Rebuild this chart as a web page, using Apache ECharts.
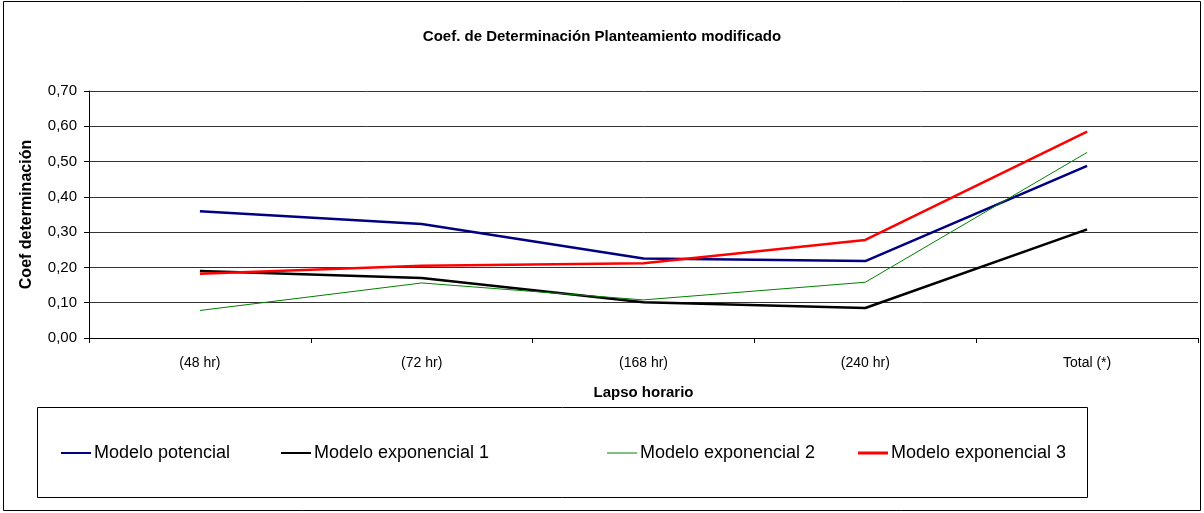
<!DOCTYPE html>
<html>
<head>
<meta charset="utf-8">
<script src="https://cdn.jsdelivr.net/npm/echarts@6/dist/echarts.min.js"></script>
<style>html,body{margin:0;padding:0;background:#fff}#c{width:1204px;height:513px}</style>
</head>
<body>
<div id="c"></div>
<script>
var categories = ['(48 hr)', '(72 hr)', '(168 hr)', '(240 hr)', 'Total (*)'];
var potencial = [0.359, 0.323, 0.225, 0.218, 0.488];
var exponencial1 = [0.190, 0.170, 0.101, 0.085, 0.308];
var exponencial2 = [0.078, 0.156, 0.108, 0.158, 0.526];
var exponencial3 = [0.182, 0.205, 0.212, 0.278, 0.585];
var seriesNames = ['Modelo potencial', 'Modelo exponencial 1', 'Modelo exponencial 2', 'Modelo exponencial 3'];
var yTicks = [0, 0.1, 0.2, 0.3, 0.4, 0.5, 0.6, 0.7];

var colors = ['#000080', '#000000', '#008000', '#ff0000'];
var widths = [2.5, 2.5, 1, 2.5];
var dataSets = [potencial, exponencial1, exponencial2, exponencial3];
var legendLeft = [61, 281, 607, 858];
var legendH = [2, 2, 1, 3];
var font = 'Liberation Sans, Arial, sans-serif';

var chart = echarts.init(document.getElementById('c'));
chart.setOption({
  animation: false,
  title: {
    text: 'Coef. de Determinación Planteamiento modificado',
    left: 'center', top: 24,
    textStyle: {fontFamily: font, fontSize: 15, fontWeight: 'bold', color: '#000'}
  },
  graphic: [
    {type: 'rect', shape: {x: 3.5, y: 1.5, width: 1197, height: 509}, style: {fill: 'none', stroke: '#000', lineWidth: 1}, silent: true},
    {type: 'rect', shape: {x: 37.5, y: 407.5, width: 1050, height: 90}, style: {fill: 'none', stroke: '#000', lineWidth: 1}, silent: true}
  ],
  legend: seriesNames.map(function (n, i) {
    return {
      data: [n], left: legendLeft[i], top: 444, padding: 0,
      icon: 'rect', itemWidth: 30, itemHeight: legendH[i], itemGap: 4,
      textStyle: {fontFamily: font, fontSize: 18, color: '#000', padding: [0, 0, 0, -2]}
    };
  }),
  grid: {left: 89, top: 91, right: 6, bottom: 175},
  xAxis: {
    type: 'category', data: categories, boundaryGap: true,
    name: 'Lapso horario', nameLocation: 'middle', nameGap: 47,
    nameTextStyle: {fontFamily: font, fontSize: 15, fontWeight: 'bold', color: '#000'},
    axisLine: {lineStyle: {color: '#000', width: 1}},
    axisTick: {show: true, length: 5, lineStyle: {color: '#000'}},
    axisLabel: {fontFamily: font, fontSize: 14, color: '#000', margin: 18}
  },
  yAxis: {
    type: 'value', min: 0, max: 0.7, interval: 0.1,
    name: 'Coef determinación', nameLocation: 'middle', nameGap: 54,
    nameTextStyle: {fontFamily: font, fontSize: 16, fontWeight: 'bold', color: '#000'},
    axisLine: {show: true, lineStyle: {color: '#000', width: 1}},
    axisTick: {show: true, length: 5, lineStyle: {color: '#000'}},
    axisLabel: {fontFamily: font, fontSize: 15, color: '#000', margin: 12,
      formatter: function (v) { return v.toFixed(2).replace('.', ','); }},
    splitLine: {show: true, lineStyle: {color: '#333', width: 1}}
  },
  series: seriesNames.map(function (n, i) {
    return {
      name: n, type: 'line', data: dataSets[i], symbol: 'none',
      lineStyle: {color: colors[i], width: widths[i]},
      itemStyle: {color: colors[i]}
    };
  })
});
</script>
</body>
</html>
